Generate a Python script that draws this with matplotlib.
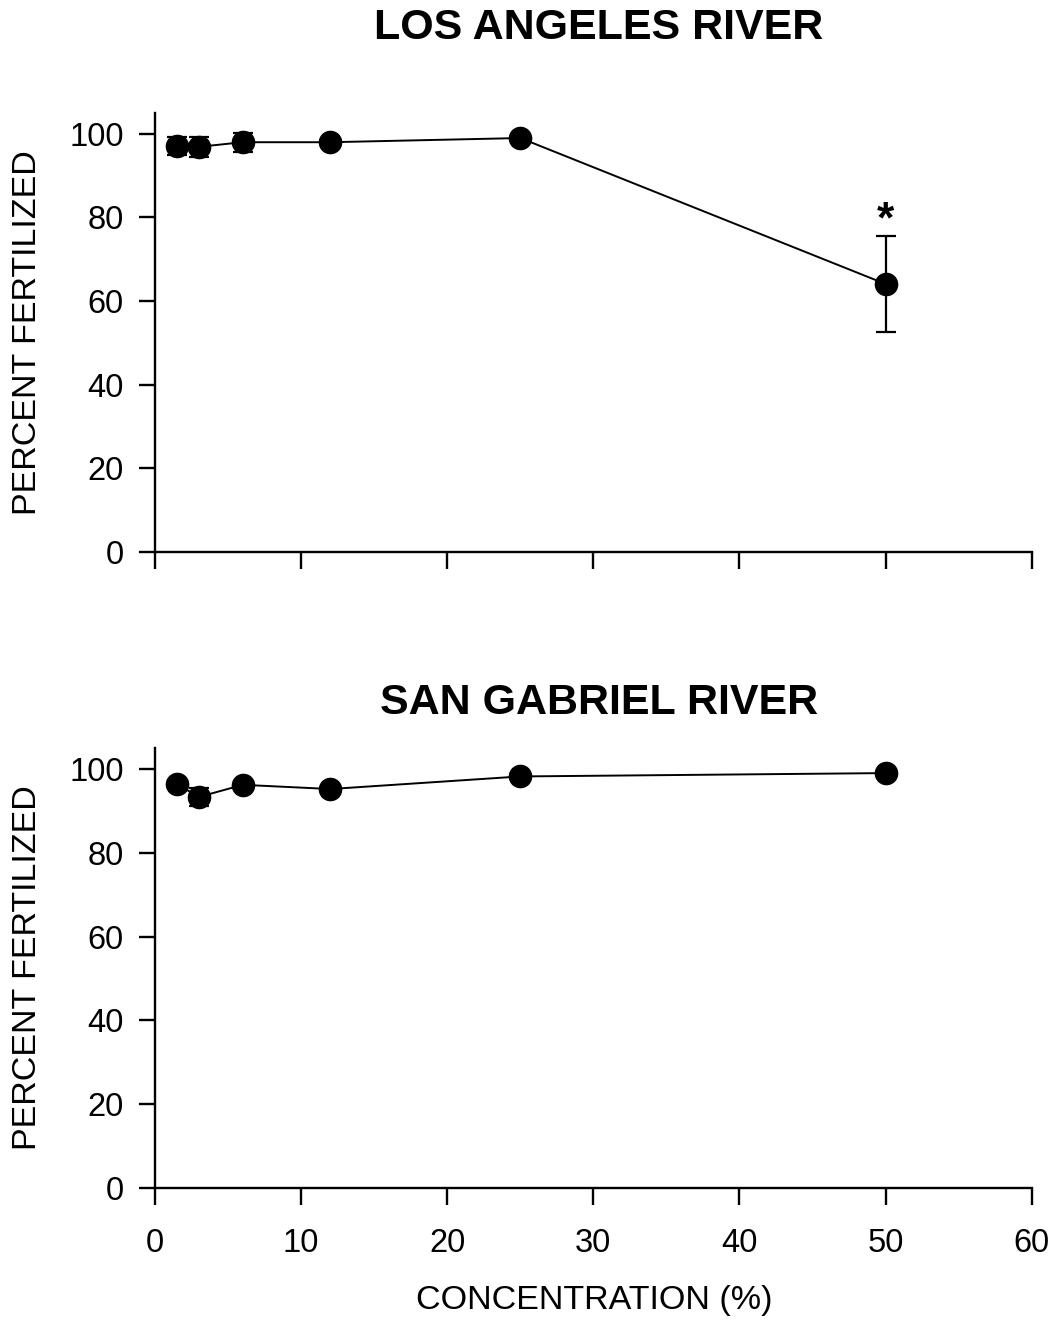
import numpy as np
import matplotlib
matplotlib.use("Agg")
import matplotlib.pyplot as plt

plt.rcParams['font.family'] = ['Liberation Sans', 'DejaVu Sans']

# data
conc = [1.5, 3, 6, 12, 25, 50]
la_mean = [97.1, 96.9, 98.0, 98.0, 99.0, 64.1]
la_err = [2.1, 2.4, 2.3, 0.8, 0.9, 11.4]
sg_mean = [96.4, 93.3, 96.2, 95.2, 98.2, 99.0]
sg_err = [0.6, 2.2, 1.0, 0.6, 0.9, 0.5]
titles = ["LOS ANGELES RIVER", "SAN GABRIEL RIVER"]
y_ticks = [0, 20, 40, 60, 80, 100]
x_ticks = [0, 10, 20, 30, 40, 50, 60]

fig = plt.figure(figsize=(10.56, 13.21), dpi=100)
ax1 = fig.add_axes([0.1468, 0.5821, 0.8302, 0.3324])
ax2 = fig.add_axes([0.1468, 0.1007, 0.8302, 0.3331])

for ax, mean, err in [(ax1, la_mean, la_err), (ax2, sg_mean, sg_err)]:
    ax.errorbar(conc, mean, yerr=err, color='black', marker='o', markersize=16,
                linewidth=1.4, elinewidth=1.6, capsize=7, capthick=1.6)
    ax.set_xlim(0, 60)
    ax.set_ylim(0, 105)
    ax.set_yticks(y_ticks)
    ax.set_xticks(x_ticks)
    for s in ['top', 'right']:
        ax.spines[s].set_visible(False)
    for s in ['left', 'bottom']:
        ax.spines[s].set_linewidth(1.7)
    ax.tick_params(axis='x', direction='out', length=12.5, width=1.7, labelsize=23.5, pad=16)
    ax.tick_params(axis='y', direction='out', length=11.5, width=1.7, labelsize=23.5, pad=11)
    pos = ax.get_position()
    fig.text(0.0256, (pos.y0 + pos.y1) / 2, "PERCENT FERTILIZED", rotation=90,
             ha='center', va='center', fontsize=24.5)

ax1.set_xticklabels([])
ax1.text(50, 76.5, "*", ha='center', va='baseline', fontsize=32, fontweight='bold')

fig.text(0.567, 1 - 28 / 1321, titles[0], ha='center', va='center',
         fontsize=31, fontweight='bold')
fig.text(0.567, 1 - 703 / 1321, titles[1], ha='center', va='center',
         fontsize=31, fontweight='bold')
fig.text(0.5625, 1 - 1300 / 1321, "CONCENTRATION (%)", ha='center', va='center',
         fontsize=24.5)

fig.savefig("out.png", dpi=100)
